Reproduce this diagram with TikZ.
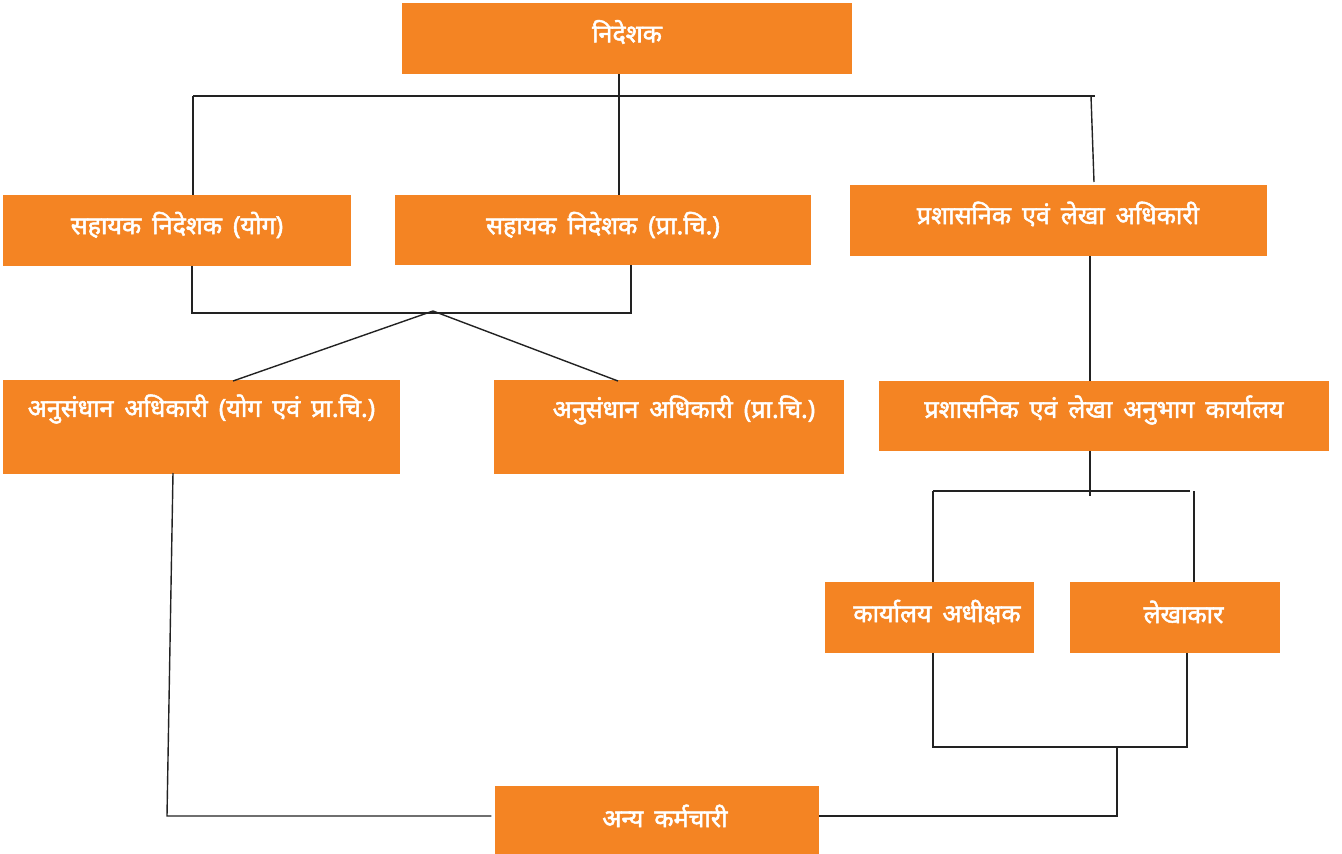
\documentclass[tikz,border=0pt]{standalone}
\usepackage{fontspec}
\newfontfamily\dev[Script=Devanagari, FakeBold=2, WordSpace=1.7]{Noto Sans}
\definecolor{org}{HTML}{F48423}
\definecolor{ln}{HTML}{222222}
\begin{document}
\begin{tikzpicture}[x=1pt,y=-1pt,
  box/.style={fill=org, draw=none, inner sep=0pt},
  lbl/.style={text=white, font=\dev\fontsize{25}{28}\selectfont, inner sep=0pt},
  conn/.style={draw=ln, line width=1.4pt}]
\useasboundingbox (0,0) rectangle (1342,854);
% boxes
\node[box, minimum width=450pt, minimum height=71pt] (nd) at (627,38.5) {};
\node[box, minimum width=348pt, minimum height=71pt] (sy) at (177,230.5) {};
\node[box, minimum width=416pt, minimum height=70pt] (sp) at (603,230) {};
\node[box, minimum width=417pt, minimum height=71pt] (pa) at (1058.5,220.5) {};
\node[box, minimum width=397pt, minimum height=94pt] (ay) at (201.5,427) {};
\node[box, minimum width=350pt, minimum height=94pt] (ap) at (669,427) {};
\node[box, minimum width=450pt, minimum height=70pt] (pk) at (1104,416) {};
\node[box, minimum width=209pt, minimum height=71pt] (ka) at (929.5,617.5) {};
\node[box, minimum width=210pt, minimum height=71pt] (le) at (1175,617.5) {};
\node[box, minimum width=324pt, minimum height=68pt] (ak) at (656.5,820) {};
% labels
\node[lbl] (tnd) at (627,32) {निदेशक};
\node[lbl] (tsy) at (177,225) {सहायक निदेशक (योग)};
\node[lbl] (tsp) at (603,225) {सहायक निदेशक (प्रा.चि.)};
\node[lbl] (tpa) at (1058,214) {प्रशासनिक एवं लेखा अधिकारी};
\node[lbl] (tay) at (201.5,409) {अनुसंधान अधिकारी (योग एवं प्रा.चि.)};
\node[lbl] (tap) at (684,410) {अनुसंधान अधिकारी (प्रा.चि.)};
\node[lbl] (tpk) at (1104,410) {प्रशासनिक एवं लेखा अनुभाग कार्यालय};
\node[lbl] (tka) at (937,612) {कार्यालय अधीक्षक};
\node[lbl] (tle) at (1183.5,612) {लेखाकार};
\node[lbl] (tak) at (665,816) {अन्य कर्मचारी};
% junction coordinates
\coordinate (a1) at (619,96);
\coordinate (hl) at (193,96);
\coordinate (hr) at (1095,96);
\coordinate (pr) at (1091,96);
\coordinate (pe) at (1094,182);
\coordinate (b1) at (192,313);
\coordinate (b2) at (631,313);
\coordinate (bm) at (433,311);
\coordinate (c1) at (1090,496);
\coordinate (cl) at (933,491);
\coordinate (cr) at (1194,491);
\coordinate (cr0) at (1190,491);
\coordinate (d1) at (933,747);
\coordinate (d2) at (1187,747);
\coordinate (dm) at (1117,747);
\coordinate (e1) at (1117,816);
\coordinate (f0) at (173,473);
\coordinate (f1) at (167,816);
% connectors
\draw[conn] (a1 |- nd.south) -- (a1 |- sp.north);
\draw[conn] (hl) -- (hr);
\draw[conn] (hl) -- (hl |- sy.north);
\draw[conn] (pr) -- (pe);
\draw[conn] (b1 |- sy.south) -- (b1) -- (b2) -- (b2 |- sp.south);
\draw[conn] (233,381) -- (bm) -- (618,381);
\draw[conn] (c1 |- pa.south) -- (c1 |- pk.north);
\draw[conn] (c1 |- pk.south) -- (c1);
\draw[conn] (cl) -- (cr0);
\draw[conn] (cl) -- (cl |- ka.north);
\draw[conn] (cr) -- (cr |- le.north);
\draw[conn] (d1 |- ka.south) -- (d1) -- (d2) -- (d2 |- le.south);
\draw[conn] (dm) -- (e1) -- (ak.east |- e1);
\draw[conn] (f0) -- (f1) -- ([xshift=-3pt]ak.west |- f1);
\end{tikzpicture}
\end{document}
